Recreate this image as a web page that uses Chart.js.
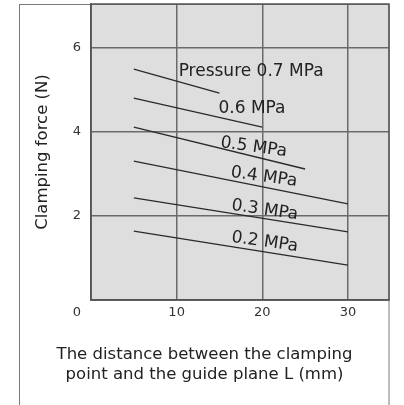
<!DOCTYPE html>
<html>
<head>
<meta charset="utf-8">
<script src="https://cdn.jsdelivr.net/npm/chart.js@4/dist/chart.umd.min.js"></script>
<style>
  body { margin: 0; background: #fff; }
  canvas { display: block; }
</style>
</head>
<body>
<canvas id="clampChart" width="404" height="405"></canvas>
<script>
// values
const pressures = ['0.7', '0.6', '0.5', '0.4', '0.3', '0.2'];
const lineStartX = [5, 5, 5, 5, 5, 5];
const lineEndX = [15, 20, 25, 30, 30, 30];
const forceAtStart = [5.50, 4.81, 4.12, 3.31, 2.43, 1.64];
const forceAtEnd = [4.93, 4.12, 3.12, 2.29, 1.62, 0.83];
const xTicks = [0, 10, 20, 30];
const yTicks = [0, 2, 4, 6];

// where each pressure label sits (data units) and its tilt
const labelX = [18.7, 18.8, 19.0, 20.2, 20.3, 20.3];
const labelY = [5.45, 4.57, 3.64, 2.93, 2.14, 1.38];
const labelTilt = [0, 0, 8, 8, 8, 8];

const FONT = "'DejaVu Sans', sans-serif";

const datasets = pressures.map((p, i) => ({
    label: p + ' MPa',
    data: [
        { x: lineStartX[i], y: forceAtStart[i] },
        { x: lineEndX[i], y: forceAtEnd[i] }
    ],
    borderColor: '#2a2a2a',
    borderWidth: 1.3,
    pointRadius: 0,
    showLine: true,
    fill: false
}));

// the plot box sits flush with the top and right of the frame
function noEdgePadding(scale) {
    scale.paddingTop = 0;
    scale.paddingBottom = 0;
    scale.paddingLeft = 0;
    scale.paddingRight = 0;
}

const plotDecor = {
    id: 'plotDecor',
    beforeDraw(chart) {
        const { ctx, chartArea: a } = chart;
        ctx.save();
        ctx.fillStyle = '#dedede';
        ctx.fillRect(a.left, a.top, a.right - a.left, a.bottom - a.top);
        // outer frame
        ctx.strokeStyle = '#7a7a7a';
        ctx.lineWidth = 1;
        ctx.strokeRect(19.5, a.top + 0.5, a.right - 19.5, 420);
        ctx.restore();
    },
    afterDatasetsDraw(chart) {
        const { ctx, chartArea: a, scales } = chart;
        ctx.save();
        ctx.strokeStyle = '#555';
        ctx.lineWidth = 1.5;
        ctx.strokeRect(a.left, a.top, a.right - a.left, a.bottom - a.top);

        ctx.fillStyle = '#222';
        ctx.font = '17px ' + FONT;
        ctx.textAlign = 'center';
        ctx.textBaseline = 'middle';
        pressures.forEach((p, i) => {
            const text = (i === 0 ? 'Pressure ' : '') + p + ' MPa';
            ctx.save();
            ctx.translate(scales.x.getPixelForValue(labelX[i]), scales.y.getPixelForValue(labelY[i]));
            ctx.rotate(labelTilt[i] * Math.PI / 180);
            ctx.fillText(text, 0, 0);
            ctx.restore();
        });

        // origin label sits in the corner, under the y tick column
        ctx.fillStyle = '#333';
        ctx.font = '13px ' + FONT;
        ctx.textAlign = 'right';
        ctx.fillText('0', scales.y.right - 10, 313);
        ctx.restore();
    }
};

new Chart(document.getElementById('clampChart'), {
    type: 'scatter',
    data: { datasets },
    options: {
        responsive: false,
        animation: false,
        layout: { padding: { left: 20, right: 15, top: 4, bottom: 0 } },
        plugins: {
            legend: { display: false },
            tooltip: { enabled: false },
            title: {
                display: true,
                position: 'bottom',
                text: ['The distance between the clamping', 'point and the guide plane L (mm)'],
                color: '#222',
                font: { family: FONT, size: 16.5, weight: 'normal', lineHeight: '20px' },
                padding: { top: 15, bottom: 20 }
            }
        },
        scales: {
            x: {
                type: 'linear',
                min: 0,
                max: 34.8,
                afterFit(scale) { scale.height = 30; noEdgePadding(scale); },
                afterBuildTicks(scale) { scale.ticks = xTicks.map(v => ({ value: v })); },
                grid: { color: '#6a6a6a', lineWidth: 1.5, drawTicks: false },
                border: { color: '#555', width: 1.5 },
                ticks: {
                    padding: 5,
                    color: '#333',
                    font: { family: FONT, size: 13 },
                    callback: v => (v === 0 ? '' : v)
                }
            },
            y: {
                type: 'linear',
                min: 0,
                max: 7.05,
                afterFit(scale) { scale.width = 71; noEdgePadding(scale); },
                afterBuildTicks(scale) { scale.ticks = yTicks.map(v => ({ value: v })); },
                grid: { color: '#6a6a6a', lineWidth: 1.5, drawTicks: false },
                border: { color: '#555', width: 1.5 },
                ticks: {
                    padding: 10,
                    color: '#333',
                    font: { family: FONT, size: 13 },
                    callback: v => (v === 0 ? '' : v)
                },
                title: {
                    display: true,
                    text: 'Clamping force (N)',
                    color: '#222',
                    font: { family: FONT, size: 16.5, weight: 'normal' },
                    padding: { top: 13, bottom: 0 }
                }
            }
        }
    },
    plugins: [plotDecor]
});
</script>
</body>
</html>
